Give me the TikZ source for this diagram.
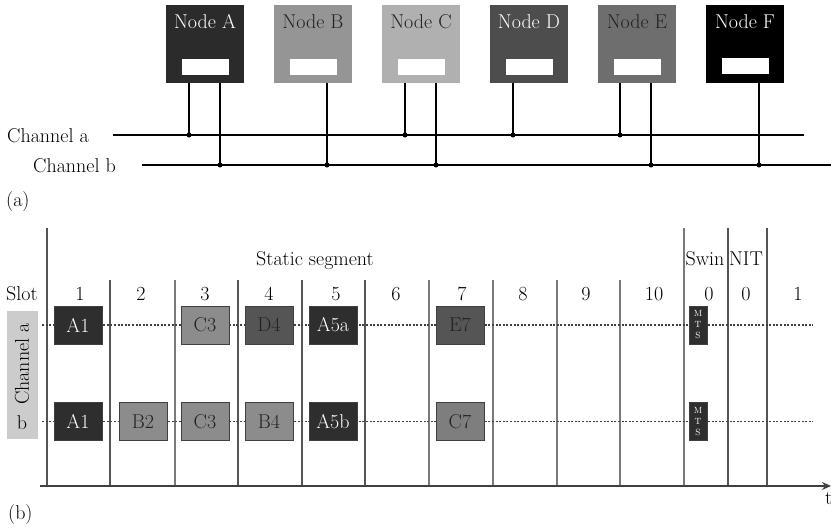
\documentclass[tikz,border=0pt]{standalone}
\usetikzlibrary{arrows.meta}
\definecolor{cA}{HTML}{2B2B2B}
\definecolor{cB}{HTML}{959595}
\definecolor{cC}{HTML}{B0B0B0}
\definecolor{cD}{HTML}{4D4D4D}
\definecolor{cE}{HTML}{6E6E6E}
\definecolor{cF}{HTML}{000000}
\definecolor{fdark}{HTML}{2E2E2E}
\definecolor{fmid}{HTML}{555555}
\definecolor{flight}{HTML}{8C8C8C}
\definecolor{txtd}{HTML}{222222}
\definecolor{linec}{HTML}{7A7A7A}
\definecolor{lined}{HTML}{555555}
\definecolor{chbox}{HTML}{CCCCCC}
\begin{document}
\begin{tikzpicture}[x=1pt,y=-1pt,
  font=\fontsize{20}{23}\selectfont,
  nodebox/.style={rectangle,minimum width=78pt,minimum height=78pt,inner sep=0pt,draw=none},
  port/.style={rectangle,fill=white,minimum width=47pt,minimum height=16pt,inner sep=0pt},
  bus/.style={line width=1.4pt,black},
  drop/.style={line width=1.4pt,black},
  jdot/.style={circle,fill=black,inner sep=0pt,minimum size=5pt},
  lbl/.style={anchor=base,inner sep=0pt},
  frame/.style={rectangle,draw=black!75,line width=0.8pt,minimum width=48pt,minimum height=38pt,inner sep=0pt},
  mts/.style={rectangle,fill=fdark,draw=black!75,line width=0.8pt,minimum width=18pt,minimum height=38pt,inner sep=0pt,text=white,align=center,font=\fontsize{9}{11}\selectfont},
  slotline/.style={line width=1.5pt,linec},
  slotlined/.style={line width=1.5pt,lined},
  dotline/.style={line width=1.5pt,black!75,dash pattern=on 2pt off 1.6pt},
  axis/.style={line width=1.8pt,black!75}
]
\useasboundingbox (0,0) rectangle (831,531);

% ---------- part (a) ----------
\node[nodebox,fill=cA] (nA) at (205,44) {};
\node[nodebox,fill=cB] (nB) at (313,44) {};
\node[nodebox,fill=cC] (nC) at (421,44) {};
\node[nodebox,fill=cD] (nD) at (529,44) {};
\node[nodebox,fill=cE] (nE) at (637,44) {};
\node[nodebox,fill=cF] (nF) at (745,44) {};
\node[lbl,text=white] (tA) at (205,28) {Node A};
\node[lbl,text=txtd] (tB) at (313,28) {Node B};
\node[lbl,text=txtd] (tC) at (421,28) {Node C};
\node[lbl,text=white] (tD) at (529,28) {Node D};
\node[lbl,text=txtd] (tE) at (637,28) {Node E};
\node[lbl,text=white] (tF) at (745,28) {Node F};
\node[port] (pA) at (205.5,67) {};
\node[port] (pB) at (313.5,67) {};
\node[port] (pC) at (421.5,67) {};
\node[port] (pD) at (529.5,67) {};
\node[port] (pE) at (637.5,67) {};
\node[port] (pF) at (745.5,66) {};

\coordinate (ca0) at (113,135);
\coordinate (ca1) at (804,135);
\coordinate (cb0) at (142,165);
\coordinate (cb1) at (831,165);
\draw[bus] (ca0) -- (ca1);
\draw[bus] (cb0) -- (cb1);
\node[anchor=base west,inner sep=0pt] (lca) at (7,142) {Channel a};
\node[anchor=base west,inner sep=0pt] (lcb) at (33,172) {Channel b};

\node[jdot] (jAa) at (189,135) {};
\node[jdot] (jAb) at (220,165) {};
\node[jdot] (jBb) at (327,165) {};
\node[jdot] (jCa) at (405,135) {};
\node[jdot] (jCb) at (436,165) {};
\node[jdot] (jDa) at (513,135) {};
\node[jdot] (jEa) at (620,135) {};
\node[jdot] (jEb) at (651,165) {};
\node[jdot] (jFb) at (759,165) {};
\draw[drop] (jAa.center |- nA.south) -- (jAa.center);
\draw[drop] (jAb.center |- nA.south) -- (jAb.center);
\draw[drop] (jBb.center |- nB.south) -- (jBb.center);
\draw[drop] (jCa.center |- nC.south) -- (jCa.center);
\draw[drop] (jCb.center |- nC.south) -- (jCb.center);
\draw[drop] (jDa.center |- nD.south) -- (jDa.center);
\draw[drop] (jEa.center |- nE.south) -- (jEa.center);
\draw[drop] (jEb.center |- nE.south) -- (jEb.center);
\draw[drop] (jFb.center |- nF.south) -- (jFb.center);

\node[anchor=base west,inner sep=0pt] (labA) at (6,206) {(a)};

% ---------- part (b) ----------
% slot dividers
\draw[slotlined] (47,228) -- (47,486);
\draw[slotlined] (110,280) -- (110,486);
\draw[slotline]  (175,280) -- (175,486);
\draw[slotlined] (238,280) -- (238,486);
\draw[slotlined] (302,280) -- (302,486);
\draw[slotlined] (365,280) -- (365,486);
\draw[slotline]  (429,280) -- (429,486);
\draw[slotline]  (493,280) -- (493,486);
\draw[slotline]  (557,280) -- (557,486);
\draw[slotline]  (620,280) -- (620,486);
\draw[slotline]  (684,228) -- (684,486);
\draw[slotlined] (728,228) -- (728,486);
\draw[slotlined] (767,228) -- (767,486);

% channel label
\node[rectangle,fill=chbox,minimum width=31pt,minimum height=128pt,inner sep=0pt] (chl) at (22.5,375) {};
\node[rotate=90,inner sep=0pt] (chtxt) at (22,364) {Channel a};
\node[lbl] (chb) at (22,429) {b};

% dotted channel lines
\coordinate (ra0) at (42,325);
\coordinate (ra1) at (813,325);
\coordinate (rb0) at (42,421.5);
\coordinate (rb1) at (813,421.5);
\draw[dotline] (ra0) -- (ra1);
\draw[dotline] (rb0) -- (rb1);

% frames channel a
\node[frame,fill=fdark,text=white] (fa1) at (78,325) {A1};
\node[frame,fill=flight,text=txtd] (fa3) at (205,325) {C3};
\node[frame,fill=fmid,text=txtd] (fa4) at (269,325) {D4};
\node[frame,fill=fdark,text=white] (fa5) at (333,325) {A5a};
\node[frame,fill=fmid,text=txtd] (fa7) at (460,325) {E7};
\node[mts] (ma) at (698,325) {M\\T\\S};
% frames channel b
\node[frame,fill=fdark,text=white] (fb1) at (78,421.5) {A1};
\node[frame,fill=flight,text=txtd] (fb2) at (143,421.5) {B2};
\node[frame,fill=flight,text=txtd] (fb3) at (205,421.5) {C3};
\node[frame,fill=flight,text=txtd] (fb4) at (269,421.5) {B4};
\node[frame,fill=fdark,text=white] (fb5) at (333,421.5) {A5b};
\node[frame,fill=flight!90!black,text=txtd] (fb7) at (460,421.5) {C7};
\node[mts] (mb) at (698,421.5) {M\\T\\S};

% headings
\node[lbl] (stat) at (315,265) {Static segment};
\node[lbl] (swin) at (705,265) {Swin};
\node[lbl] (nit) at (746,265) {NIT};
\node[anchor=base west,inner sep=0pt] (slot) at (6,300) {Slot};
\node[lbl] (s1) at (80,300) {1};
\node[lbl] (s2) at (141,300) {2};
\node[lbl] (s3) at (205,300) {3};
\node[lbl] (s4) at (269,300) {4};
\node[lbl] (s5) at (336,300) {5};
\node[lbl] (s6) at (396,300) {6};
\node[lbl] (s7) at (462,300) {7};
\node[lbl] (s8) at (523,300) {8};
\node[lbl] (s9) at (586,300) {9};
\node[lbl] (s10) at (654,300) {10};
\node[lbl] (s0a) at (709,300) {0};
\node[lbl] (s0b) at (746,300) {0};
\node[lbl] (s1b) at (798,300) {1};

% time axis
\coordinate (ax0) at (40,486);
\coordinate (ax1) at (831,486);
\draw[axis,-{Stealth[length=9pt,width=8pt]}] (ax0) -- (ax1);
\node[anchor=base west,inner sep=0pt] (tt) at (825,504) {t};

\node[anchor=base west,inner sep=0pt] (labB) at (8,519) {(b)};
\end{tikzpicture}
\end{document}
